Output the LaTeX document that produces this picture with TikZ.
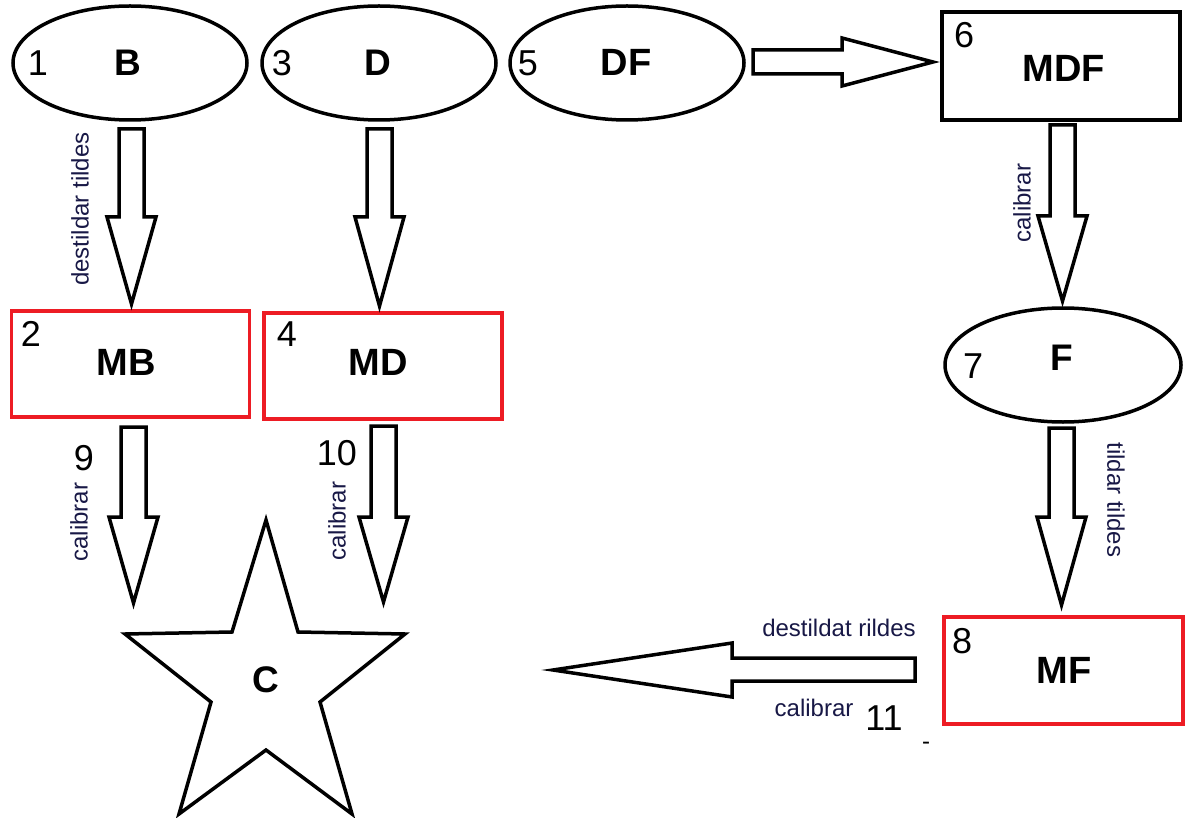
\documentclass[tikz,border=0pt]{standalone}
\usepackage{fontspec}
\setmainfont{Liberation Sans}
\usetikzlibrary{shapes.geometric}
\definecolor{boxred}{RGB}{237,28,36}
\definecolor{notecol}{RGB}{24,24,70}
\tikzset{
  stateell/.style={draw=black, line width=3.5pt, ellipse, minimum width=234pt, minimum height=114pt, inner sep=0pt},
  blackbox/.style={draw=black, line width=3.5pt, rectangle, minimum width=238pt, minimum height=108pt, inner sep=0pt},
  redbox/.style={draw=boxred, line width=3.5pt, rectangle, minimum width=238pt, minimum height=106pt, inner sep=0pt},
  bigname/.style={font=\fontsize{38}{40}\selectfont\bfseries, inner sep=0pt},
  smallname/.style={font=\fontsize{37}{39}\selectfont\bfseries, inner sep=0pt},
  num/.style={font=\fontsize{36}{38}\selectfont, inner sep=0pt},
  note/.style={font=\fontsize{24}{26}\selectfont, text=notecol, inner sep=0pt},
  block/.style={draw=black, line width=3.5pt, line join=miter, fill=white},
}
% hollow block arrow pointing down: centre x, top of shaft, start of head, tip
\newcommand\blockdown[4]{%
  \draw[block] (#1-12.5,#2) -- (#1+12.5,#2) -- (#1+12.5,#3) -- (#1+24.5,#3)
    -- (#1,#4) -- (#1-24.5,#3) -- (#1-12.5,#3) -- cycle;}
\begin{document}
\begin{tikzpicture}[x=1pt,y=-1pt]
\useasboundingbox[fill=white] (0,0) rectangle (1196,818);

% top row
\node[stateell] (B)  at (130,63) {};
\node[stateell] (D)  at (379,63) {};
\node[stateell] (DF) at (627,63) {};
\node[blackbox] (MDF) at (1061,66) {};
\node[num] (n1) at (38,63) {1};
\node[smallname] (Bt) at (128,63) {B};
\node[num] (n3) at (282,63) {3};
\node[smallname] (Dt) at (378,63) {D};
\node[num] (n5) at (528,63) {5};
\node[bigname] (DFt) at (626,62) {DF};
\node[num] (n6) at (964,35) {6};
\node[bigname] (MDFt) at (1064,68) {MDF};

% middle row
\node[redbox] (MB) at (130.5,364) {};
\node[redbox] (MD) at (383,366) {};
\node[stateell, minimum width=236pt] (F) at (1063,365) {};
\node[num] (n2) at (31,334) {2};
\node[bigname] (MBt) at (126,362) {MB};
\node[num] (n4) at (287,334) {4};
\node[bigname] (MDt) at (378,362) {MD};
\node[num] (n7) at (973,366) {7};
\node[smallname] (Ft) at (1062,358) {F};

% bottom row
\node[redbox, minimum width=239pt, minimum height=107pt] (MF) at (1063.5,670.5) {};
\node[num] (n8) at (962,641) {8};
\node[bigname] (MFt) at (1064,670) {MF};
\draw[line width=3.5pt, line join=miter] (266,520) -- (298,632) -- (405,634) -- (320,702)
  -- (352,814) -- (266,750) -- (179,814) -- (211,702) -- (125,634) -- (232,632) -- cycle;
\node[smallname] (C) at (266,680) {C};

% block arrows
\blockdown{131.5}{129}{217}{304}
\blockdown{379.5}{129}{217}{306}
\blockdown{133.5}{427}{517}{603}
\blockdown{383.5}{426}{517}{602}
\blockdown{1062.5}{125}{216}{301}
\blockdown{1061.5}{428}{517}{605}
\draw[block] (753,50) -- (842,50) -- (842,38) -- (933,62) -- (842,86) -- (842,74) -- (753,74) -- cycle;
\draw[block] (915,658) -- (732,658) -- (732,643) -- (553,670) -- (732,697) -- (732,681) -- (915,681) -- cycle;

% arrow labels
\node[note, rotate=90] (l1) at (80,209) {destildar tildes};
\node[note, rotate=90] (l2) at (79,522) {calibrar};
\node[note, rotate=90] (l3) at (337,521) {calibrar};
\node[note, rotate=90] (l4) at (1022,203) {calibrar};
\node[note, rotate=-90] (l5) at (1116,500) {tildar tildes};
\node[note] (l6) at (839,628) {destildat rildes};
\node[note] (l7) at (814,708) {calibrar};
\node[num] (n9) at (84,458) {9};
\node[num] (n10) at (337,453) {10};
\node[num] (n11) at (884,718) {11};
\node[note, text=black] (dash) at (926,746) {-};
\end{tikzpicture}
\end{document}
